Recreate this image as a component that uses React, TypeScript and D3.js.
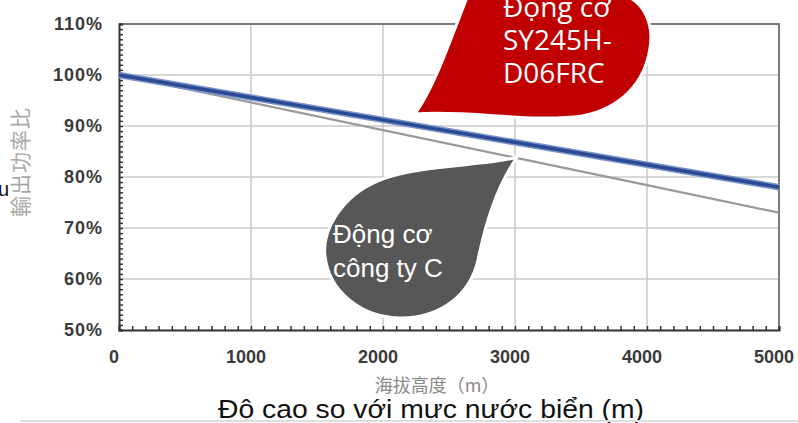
import React, { useEffect, useRef } from "react";
import * as d3 from "d3";

// altitude (m) vs output power ratio (%)
const altitudes = [0, 1000, 2000, 3000, 4000, 5000];
const sy245Ratio = [100, 95.6, 91.2, 86.8, 82.4, 78.0];
const companyCRatio = [100, 94.6, 89.2, 83.8, 78.4, 73.0];
const xTicks = [0, 1000, 2000, 3000, 4000, 5000];
const yTicks = [50, 60, 70, 80, 90, 100, 110];

const W = 798;
const H = 423;

export default function App() {
  const svgRef = useRef<SVGSVGElement>(null);

  useEffect(() => {
    const svg = d3.select(svgRef.current);
    svg.selectAll("*").remove();

    const margin = { top: 24, right: 19, bottom: 93, left: 119 };
    const x = d3.scaleLinear().domain([0, 5000]).range([margin.left, W - margin.right]);
    const y = d3.scaleLinear().domain([50, 110]).range([H - margin.bottom, margin.top]);
    const font = "'Liberation Sans', Arial, sans-serif";

    svg.append("rect").attr("width", W).attr("height", H).attr("fill", "#fff");

    // grid
    const grid = svg.append("g").attr("stroke", "#cbcbcb").attr("stroke-width", 1.6);
    grid
      .selectAll("line.v")
      .data(xTicks.slice(1, -1))
      .enter()
      .append("line")
      .attr("x1", (d) => x(d))
      .attr("x2", (d) => x(d))
      .attr("y1", y(110))
      .attr("y2", y(50));
    grid
      .selectAll("line.h")
      .data(yTicks.slice(1, -1))
      .enter()
      .append("line")
      .attr("x1", x(0))
      .attr("x2", x(5000))
      .attr("y1", (d) => y(d))
      .attr("y2", (d) => y(d));

    // top / right frame
    svg
      .append("path")
      .attr("d", `M${x(0)},${y(110)}H${x(5000)}V${y(50)}`)
      .attr("fill", "none")
      .attr("stroke", "#7a7a7a")
      .attr("stroke-width", 2);

    // minor ticks
    const yMinor = d3.range(50, 111, 1);
    const xMinor = d3.range(0, 5001, 100);
    const yAxis = svg
      .append("g")
      .attr("transform", `translate(${x(0)},0)`)
      .call(d3.axisRight(y).tickValues(yMinor).tickSize(4).tickFormat(() => ""));
    const xAxis = svg
      .append("g")
      .attr("transform", `translate(0,${y(50)})`)
      .call(d3.axisTop(x).tickValues(xMinor).tickSize(4).tickFormat(() => ""));
    [yAxis, xAxis].forEach((g) => {
      g.select(".domain").attr("stroke", "#333").attr("stroke-width", 2);
      g.selectAll(".tick line").attr("stroke", "#333").attr("stroke-width", 1.5);
    });

    // tick labels
    svg
      .append("g")
      .selectAll("text")
      .data(yTicks)
      .enter()
      .append("text")
      .attr("x", 103)
      .attr("y", (d) => y(d))
      .attr("dy", "0.35em")
      .attr("text-anchor", "end")
      .attr("font-family", font)
      .attr("font-weight", "bold")
      .attr("font-size", 18)
      .attr("letter-spacing", 1)
      .attr("fill", "#3a3a3a")
      .text((d) => `${d}%`);
    svg
      .append("g")
      .selectAll("text")
      .data(xTicks)
      .enter()
      .append("text")
      .attr("x", (d) => x(d) - 5)
      .attr("y", 363)
      .attr("text-anchor", "middle")
      .attr("font-family", font)
      .attr("font-weight", "bold")
      .attr("font-size", 18)
      .attr("fill", "#3a3a3a")
      .text((d) => d);

    // series
    const line = (vals: number[]) =>
      d3
        .line<number>()
        .x((_, i) => x(altitudes[i]))
        .y((d) => y(d))(vals);
    svg
      .append("path")
      .attr("d", line(companyCRatio))
      .attr("fill", "none")
      .attr("stroke", "#9a9a9a")
      .attr("stroke-width", 2.2);
    svg
      .append("path")
      .attr("d", line(sy245Ratio))
      .attr("fill", "none")
      .attr("stroke", "#7a92cc")
      .attr("stroke-width", 6.5);
    svg
      .append("path")
      .attr("d", line(sy245Ratio))
      .attr("fill", "none")
      .attr("stroke", "#2c4a92")
      .attr("stroke-width", 3.5);

    // axis titles
    svg
      .append("text")
      .attr("transform", "translate(28,162) rotate(-90)")
      .attr("text-anchor", "middle")
      .attr("font-family", "'Noto Sans CJK JP', sans-serif")
      .attr("font-size", 21)
      .attr("letter-spacing", 1)
      .attr("fill", "#a8a8a8")
      .text("輸出功率比");
    svg
      .append("text")
      .attr("x", 9)
      .attr("y", 196)
      .attr("text-anchor", "end")
      .attr("font-family", font)
      .attr("font-size", 20)
      .attr("fill", "#111")
      .text("u");
    svg
      .append("text")
      .attr("x", 437)
      .attr("y", 392)
      .attr("text-anchor", "middle")
      .attr("font-family", "'Noto Sans CJK JP', sans-serif")
      .attr("font-size", 18)
      .attr("fill", "#8a8a8a")
      .text("海拔高度（m）");
    svg
      .append("text")
      .attr("x", 218)
      .attr("y", 418)
      .attr("font-family", font)
      .attr("font-size", 26)
      .attr("textLength", 426)
      .attr("lengthAdjust", "spacingAndGlyphs")
      .attr("fill", "#111")
      .text("Độ cao so với mực nước biển (m)");
    svg
      .append("line")
      .attr("x1", 20)
      .attr("x2", W)
      .attr("y1", 421)
      .attr("y2", 421)
      .attr("stroke", "#dedede")
      .attr("stroke-width", 2);

    // callout bubbles
    svg
      .append("path")
      .attr(
        "d",
        "M415,114 C436,84 450,40 468,-5 L624,-5 C644,2 654,24 650,48 C645,82 622,108 582,116 C530,123 470,110 415,114 Z"
      )
      .attr("fill", "#c00000")
      .attr("stroke", "#fff")
      .attr("stroke-width", 3);
    svg
      .append("g")
      .selectAll("text")
      .data(["Động cơ", "SY245H-", "D06FRC"])
      .enter()
      .append("text")
      .attr("x", 503)
      .attr("y", (_, i) => 17 + i * 33)
      .attr("font-family", "'Open Sans', sans-serif")
      .attr("font-size", 28)
      .attr("fill", "#fff")
      .text((d) => d);

    svg
      .append("path")
      .attr(
        "d",
        "M517,157 C490,166 420,164 380,180 C340,196 322,232 325,256 C329,292 362,318 401,318 C442,318 470,294 478,260 C485,226 495,190 517,157 Z"
      )
      .attr("fill", "#575757")
      .attr("stroke", "#fff")
      .attr("stroke-width", 3);
    svg
      .append("g")
      .selectAll("text")
      .data(["Động cơ", "công ty C"])
      .enter()
      .append("text")
      .attr("x", 333)
      .attr("y", (_, i) => 243 + i * 34)
      .attr("font-family", font)
      .attr("font-size", 26)
      .attr("fill", "#fff")
      .text((d) => d);
  }, []);

  return (
    <svg
      ref={svgRef}
      width={W}
      height={H}
      style={{ position: "absolute", left: 0, top: 0 }}
    ></svg>
  );
}
